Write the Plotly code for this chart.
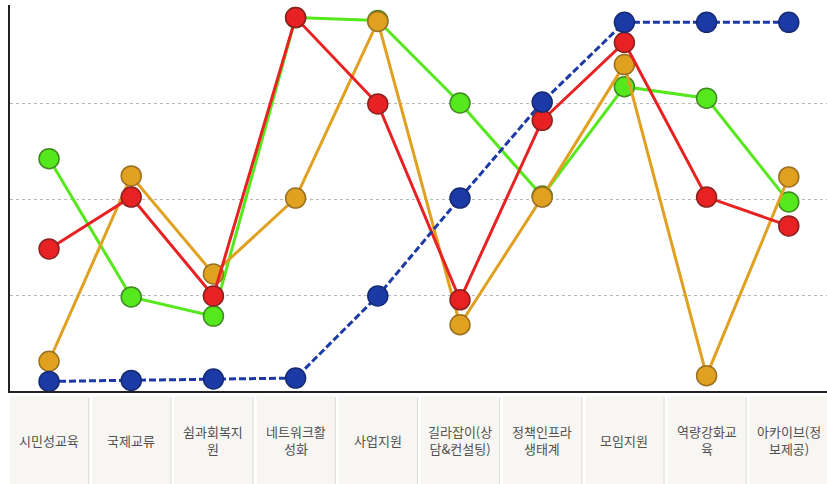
import plotly.graph_objects as go

categories = ["시민성교육", "국제교류", "쉼과회복지<br>원", "네트워크활<br>성화", "사업지원",
              "길라잡이(상<br>담&컨설팅)", "정책인프라<br>생태계", "모임지원", "역량강화교<br>육", "아카이브(정<br>보제공)"]
green = [2.42, 0.98, 0.78, 3.89, 3.86, 3.00, 2.03, 3.17, 3.05, 1.97]
red = [1.48, 2.02, 0.99, 3.89, 2.99, 0.95, 2.82, 3.63, 2.02, 1.72]
orange = [0.31, 2.24, 1.22, 2.01, 3.85, 0.69, 2.02, 3.40, 0.16, 2.23]
blue = [0.10, 0.11, 0.125, 0.135, 0.99, 2.01, 3.01, 3.84, 3.84, 3.84]

xs = list(range(len(categories)))
fig = go.Figure()

def add(vals, col, edge, dash="solid"):
    fig.add_trace(go.Scatter(
        x=xs, y=vals, mode="lines+markers",
        line=dict(color=col, width=3, dash=dash),
        marker=dict(size=20, color=col, line=dict(color=edge, width=1.5)),
        showlegend=False, hoverinfo="skip"))

add(green, "#55e81c", "#3f8a20")
add(orange, "#e0a020", "#9a7020")
add(red, "#e82222", "#8a2020")
add(blue, "#1c3aa6", "#152a70", dash="7px,3px")

H = 386.0
def py(px):
    return (391 - px) / H

shapes = []
annotations = []
for i, c in enumerate(categories):
    shapes.append(dict(type="rect", xref="x", yref="paper",
                       x0=i - 0.462, x1=i + 0.49, y0=py(397), y1=py(486),
                       fillcolor="#e2e0dd", line=dict(width=0), layer="below"))
    shapes.append(dict(type="rect", xref="x", yref="paper",
                       x0=i - 0.475, x1=i + 0.475, y0=py(396), y1=py(484),
                       fillcolor="#f8f6f3", line=dict(width=0), layer="below"))
    annotations.append(dict(x=i, y=py(440), xref="x", yref="paper", text=c,
                            showarrow=False, xanchor="center", yanchor="middle",
                            font=dict(family="Noto Sans CJK KR", size=13, color="#505050")))

fig.update_layout(
    width=827, height=484,
    margin=dict(l=10, r=0, t=5, b=93, autoexpand=False),
    paper_bgcolor="white", plot_bgcolor="white",
    shapes=shapes, annotations=annotations,
    xaxis=dict(range=[-0.475, 9.465], showgrid=False, zeroline=False,
               showticklabels=False, ticks="", showline=True, automargin=False,
               linecolor="#222222", linewidth=2, mirror=False),
    yaxis=dict(range=[0, (391 - 5) / 96.0], showgrid=True, gridcolor="#b8b8b8",
               griddash="dot", gridwidth=1, tickvals=[1, 2, 3], showticklabels=False,
               automargin=False,
               ticks="", zeroline=False, showline=True, linecolor="#222222", linewidth=2),
)

fig.write_html("out.html", config={"displayModeBar": False},
               post_script="document.body.style.margin='0px';document.body.style.overflow='hidden';")
